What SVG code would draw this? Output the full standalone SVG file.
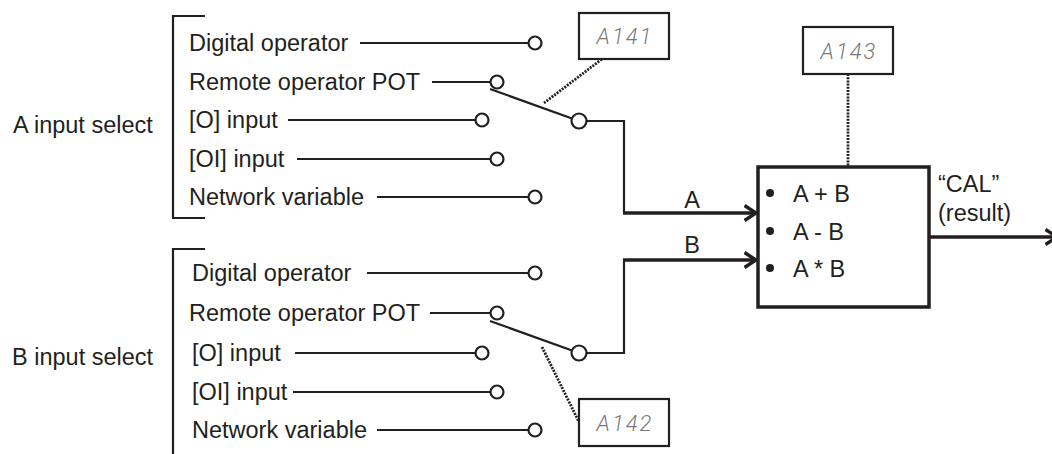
<svg xmlns="http://www.w3.org/2000/svg" width="1052" height="454" viewBox="0 0 1052 454">
<style>
text{font-family:"Liberation Sans",Arial,sans-serif;font-size:23.5px;fill:#231f20}
.ln{stroke:#231f20;stroke-width:2.2;fill:none}
.thick{stroke:#231f20;stroke-width:3.5;fill:none}
.dot{stroke:#231f20;stroke-width:2.8;stroke-dasharray:2 1.2;fill:none}
.term{fill:#fff;stroke:#231f20;stroke-width:2.2}
.disp{fill:#fff;stroke:#231f20;stroke-width:2.2}
.seg{font-family:Roboto,"DejaVu Sans",sans-serif;font-weight:300;font-style:italic;font-size:22px;fill:#7a7a7a;letter-spacing:2px}
</style>
<defs>
<marker id="chev" viewBox="0 0 14 18" refX="12.5" refY="9" markerWidth="14" markerHeight="18" markerUnits="userSpaceOnUse" orient="auto">
<path d="M1,1.5 L12.5,9 L1,16.5" fill="none" stroke="#231f20" stroke-width="3.5"/>
</marker>
</defs>

<g id="a-select">
<text x="13" y="133">A input select</text>
<path class="ln" d="M205,16 H173 V218 H205"/>
<text x="189" y="51">Digital operator</text>
<text x="189" y="90">Remote operator POT</text>
<text x="189" y="128">[O] input</text>
<text x="189" y="167">[OI] input</text>
<text x="189" y="205">Network variable</text>
</g>
<g id="b-select">
<text x="12" y="365">B input select</text>
<path class="ln" d="M205,249 H173 V454"/>
<text x="192" y="281">Digital operator</text>
<text x="189" y="321">Remote operator POT</text>
<text x="192" y="361">[O] input</text>
<text x="192" y="400">[OI] input</text>
<text x="192" y="438">Network variable</text>
</g>

<g id="connectors">
<line class="ln" x1="360" y1="43" x2="535" y2="43"/>
<line class="ln" x1="432" y1="82" x2="497" y2="82"/>
<line class="ln" x1="288" y1="120" x2="482" y2="120"/>
<line class="ln" x1="297" y1="159" x2="497" y2="159"/>
<line class="ln" x1="377" y1="197" x2="535" y2="197"/>
<line class="ln" x1="490" y1="89" x2="579" y2="121"/>
<path class="ln" d="M579,121 H624 V213"/>
<line class="thick" x1="623" y1="213" x2="756" y2="213" marker-end="url(#chev)"/>
<line class="dot" x1="544" y1="103" x2="602" y2="59"/>
<line class="ln" x1="367" y1="273" x2="535" y2="273"/>
<line class="ln" x1="430" y1="313" x2="497" y2="313"/>
<line class="ln" x1="295" y1="353" x2="482" y2="353"/>
<line class="ln" x1="293" y1="392" x2="497" y2="392"/>
<line class="ln" x1="377" y1="430" x2="535" y2="430"/>
<line class="ln" x1="490" y1="321" x2="579" y2="353"/>
<path class="ln" d="M579,353 H624 V260"/>
<line class="thick" x1="623" y1="260" x2="756" y2="260" marker-end="url(#chev)"/>
<line class="dot" x1="542" y1="347" x2="579" y2="422"/>
<line class="dot" x1="848" y1="74" x2="848" y2="166"/>
<line class="thick" x1="929" y1="237" x2="1057" y2="237" marker-end="url(#chev)"/>
<text x="692" y="208" text-anchor="middle">A</text>
<text x="692" y="253" text-anchor="middle">B</text>
</g>

<g id="terminals">
<circle class="term" cx="535" cy="43" r="6.5"/>
<circle class="term" cx="497" cy="82" r="6.5"/>
<circle class="term" cx="482" cy="120" r="6.5"/>
<circle class="term" cx="497" cy="159" r="6.5"/>
<circle class="term" cx="535" cy="197" r="6.5"/>
<circle class="term" cx="579" cy="121" r="7.5"/>
<circle class="term" cx="535" cy="273" r="6.5"/>
<circle class="term" cx="497" cy="313" r="6.5"/>
<circle class="term" cx="482" cy="353" r="6.5"/>
<circle class="term" cx="497" cy="392" r="6.5"/>
<circle class="term" cx="535" cy="430" r="6.5"/>
<circle class="term" cx="579" cy="353" r="7.5"/>
</g>

<g id="a141">
<rect class="disp" x="579" y="13" width="90" height="46"/>
<text class="seg" x="625" y="44" text-anchor="middle">A141</text>
</g>
<g id="a142">
<rect class="disp" x="579" y="399" width="90" height="47"/>
<text class="seg" x="625" y="431" text-anchor="middle">A142</text>
</g>
<g id="a143">
<rect class="disp" x="803" y="27" width="90" height="47"/>
<text class="seg" x="849" y="59" text-anchor="middle">A143</text>
</g>

<g id="cal">
<rect x="758" y="167" width="171" height="140" fill="#fff" stroke="#231f20" stroke-width="3.5"/>
<circle cx="770" cy="193" r="4" fill="#231f20"/>
<circle cx="770" cy="231" r="4" fill="#231f20"/>
<circle cx="770" cy="268" r="4" fill="#231f20"/>
<text x="793" y="202">A + B</text>
<text x="793" y="240">A - B</text>
<text x="793" y="277">A * B</text>
</g>
<g id="result">
<text x="938" y="192">“CAL”</text>
<text x="938" y="221">(result)</text>
</g>
</svg>
